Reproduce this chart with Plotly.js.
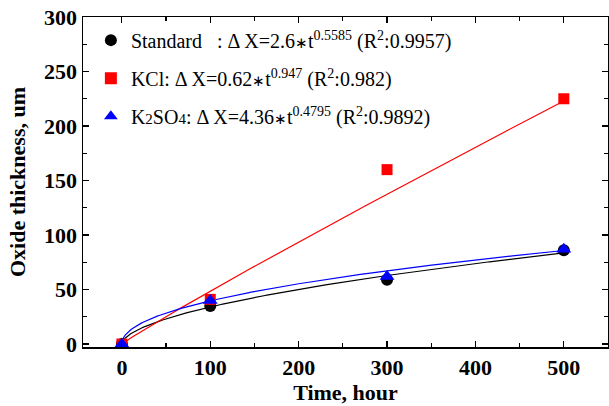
<!DOCTYPE html>
<html>
<head>
<meta charset="utf-8">
<script src="https://cdn.plot.ly/plotly-3.0.1.min.js"></script>
<style>html,body{margin:0;padding:0;background:#fff}#chart{width:609px;height:406px}</style>
</head>
<body>
<div id="chart"></div>
<script>
// Measured data (time in hours, oxide thickness in um)
const timeHours = [0, 100, 300, 500];
const standardVals = [0, 35, 59, 86];
const kclVals = [0, 41, 160, 225];
const k2so4Vals = [0, 40, 62, 87];

// Fit parameters stated in the legend: dX = a * t^n
const seriesNames = ['Standard', 'KCl', 'K2SO4'];
const fitCoef = [2.6, 0.62, 4.36];
const fitExp = [0.5585, 0.947, 0.4795];
const colors = ['#000000', '#ff0000', '#0000ff'];
const symbols = ['circle', 'square', 'triangle-up'];
const markerSizes = [12, 11, 13];

const xTicks = [0, 100, 200, 300, 400, 500];
const yTicks = [0, 50, 100, 150, 200, 250, 300];

const legendLabels = [
  'Standard   : \u0394 X=2.6<span style="font-size:15px">\u2217</span>t<sup>0.5585</sup> (R<sup>2</sup>:0.9957)',
  'KCl: \u0394 X=0.62<span style="font-size:15px">\u2217</span>t<sup>0.947</sup> (R<sup>2</sup>:0.982)',
  'K<span style="font-size:15px">2</span>SO<span style="font-size:15px">4</span>: \u0394 X=4.36<span style="font-size:15px">\u2217</span>t<sup>0.4795</sup> (R<sup>2</sup>:0.9892)'
];

const dataSets = [standardVals, kclVals, k2so4Vals];
const traces = [];

// fit curves
const fitT = [];
for (let t = 0; t <= 500; t += 2) fitT.push(t);
for (let i = 0; i < 3; i++) {
  traces.push({
    x: fitT,
    y: fitT.map(t => fitCoef[i] * Math.pow(t, fitExp[i])),
    mode: 'lines',
    line: {color: colors[i], width: 1.2},
    showlegend: false,
    hoverinfo: 'skip'
  });
}
// markers
for (let i = 0; i < 3; i++) {
  traces.push({
    x: timeHours,
    y: dataSets[i],
    mode: 'markers',
    name: legendLabels[i],
    legendgroup: 'g' + i,
    marker: {color: colors[i], symbol: symbols[i], size: markerSizes[i]}
  });
}

const fontFam = '"Liberation Serif", "Times New Roman", serif';
const layout = {
  width: 609, height: 406,
  margin: {l: 83, r: 1, t: 17, b: 59},
  paper_bgcolor: '#fff', plot_bgcolor: '#fff',
  font: {family: fontFam, color: '#000'},
  showlegend: true,
  legend: {
    x: 0.015, y: 0.989, xanchor: 'left', yanchor: 'top',
    bgcolor: 'rgba(0,0,0,0)',
    font: {family: fontFam, size: 20, color: '#000'},
    itemsizing: 'constant',
    tracegroupgap: 9
  },
  xaxis: {
    range: [-44, 550],
    tickvals: xTicks,
    ticks: 'inside', ticklen: 6, tickwidth: 1.2, tickcolor: '#000',
    minor: {dtick: 50, ticks: 'inside', ticklen: 4, tickwidth: 1.2, tickcolor: '#000'},
    showline: true, linecolor: '#000', linewidth: 1.5, mirror: 'ticks',
    showgrid: false, zeroline: false,
    tickfont: {family: fontFam, size: 22, color: '#000', weight: 'bold'},
    title: {text: '<b>Time, hour</b>', font: {family: fontFam, size: 22, color: '#000'}, standoff: 2}
  },
  yaxis: {
    range: [-2.7, 300],
    tickvals: yTicks,
    ticks: 'inside', ticklen: 6, tickwidth: 1.2, tickcolor: '#000',
    minor: {dtick: 25, ticks: 'inside', ticklen: 4, tickwidth: 1.2, tickcolor: '#000'},
    showline: true, linecolor: '#000', linewidth: 1.5, mirror: 'ticks',
    showgrid: false, zeroline: false,
    tickfont: {family: fontFam, size: 22, color: '#000', weight: 'bold'},
    title: {text: '<b>Oxide thickness, um</b>', font: {family: fontFam, size: 22, color: '#000'}, standoff: 12}
  }
};

Plotly.newPlot('chart', traces, layout, {displayModeBar: false, staticPlot: true});
</script>
</body>
</html>
